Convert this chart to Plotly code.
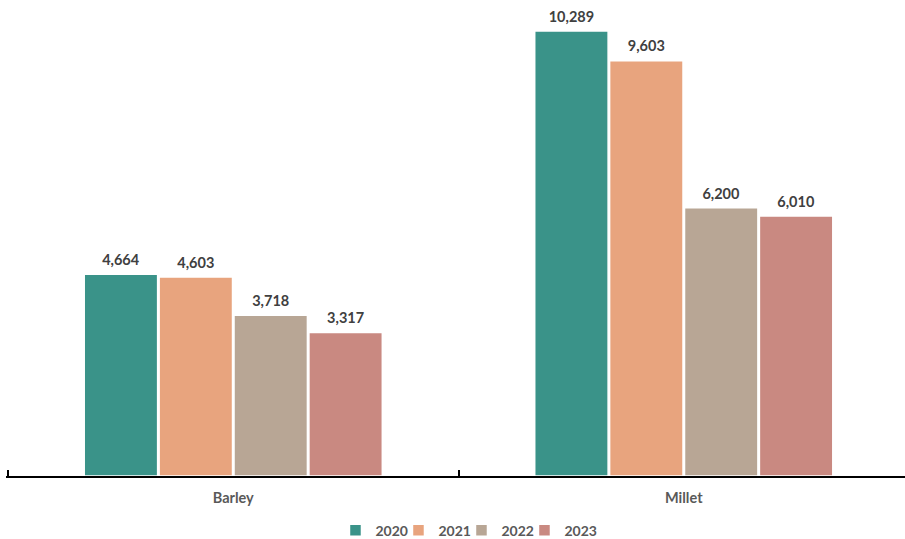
import plotly.graph_objects as go

categories = ["Barley", "Millet"]
years = ["2020", "2021", "2022", "2023"]
values_2020 = [4664, 10289]
values_2021 = [4603, 9603]
values_2022 = [3718, 6200]
values_2023 = [3317, 6010]
series = [values_2020, values_2021, values_2022, values_2023]
colors = ["#3A9389", "#E8A47E", "#B8A695", "#C98981"]

FONT = "Lato"

fig = go.Figure()
for year, vals, col in zip(years, series, colors):
    fig.add_trace(go.Bar(
        name=year,
        x=categories,
        y=vals,
        marker=dict(color=col, line=dict(color="white", width=1.5)),
        # small trailing line lifts the value label a few pixels above the bar
        text=[f"<span style='font-size:14.5px'><b>{v:,}</b></span><br> " for v in vals],
        textposition="outside",
        constraintext="none",
        textfont=dict(family=FONT, size=4, color="#404040"),
        cliponaxis=False,
        hoverinfo="skip",
    ))

# blank trailing legend entry so the last label is not clipped by the legend box
fig.add_trace(go.Scatter(
    name=" ",
    x=[None],
    y=[None],
    mode="markers",
    marker=dict(color="rgba(0,0,0,0)", size=1),
    showlegend=True,
    hoverinfo="skip",
))

fig.update_layout(
    width=905,
    height=539,
    barmode="group",
    bargap=0.335,
    bargroupgap=0.02,
    plot_bgcolor="white",
    paper_bgcolor="white",
    margin=dict(l=6, r=0, t=20, b=63, autoexpand=False),
    font=dict(family=FONT, color="#595959"),
    xaxis=dict(
        range=[-0.5045, 1.4911],
        showline=True,
        linecolor="black",
        linewidth=2,
        ticks="inside",
        tickson="boundaries",
        ticklen=6,
        tickwidth=1.5,
        tickcolor="black",
        ticklabelstandoff=8,
        tickfont=dict(family=FONT, size=14.5, color="#595959", weight="bold"),
    ),
    yaxis=dict(
        range=[0, 10543],
        visible=False,
        showgrid=False,
        zeroline=False,
    ),
    showlegend=True,
    legend=dict(
        orientation="h",
        x=0.3665,
        xanchor="left",
        y=-0.12,
        yanchor="middle",
        font=dict(family=FONT, size=14, color="#595959", weight="bold"),
        tracegroupgap=0,
        entrywidth=18,
        itemwidth=30,
    ),
)

fig.write_html("out.html")
